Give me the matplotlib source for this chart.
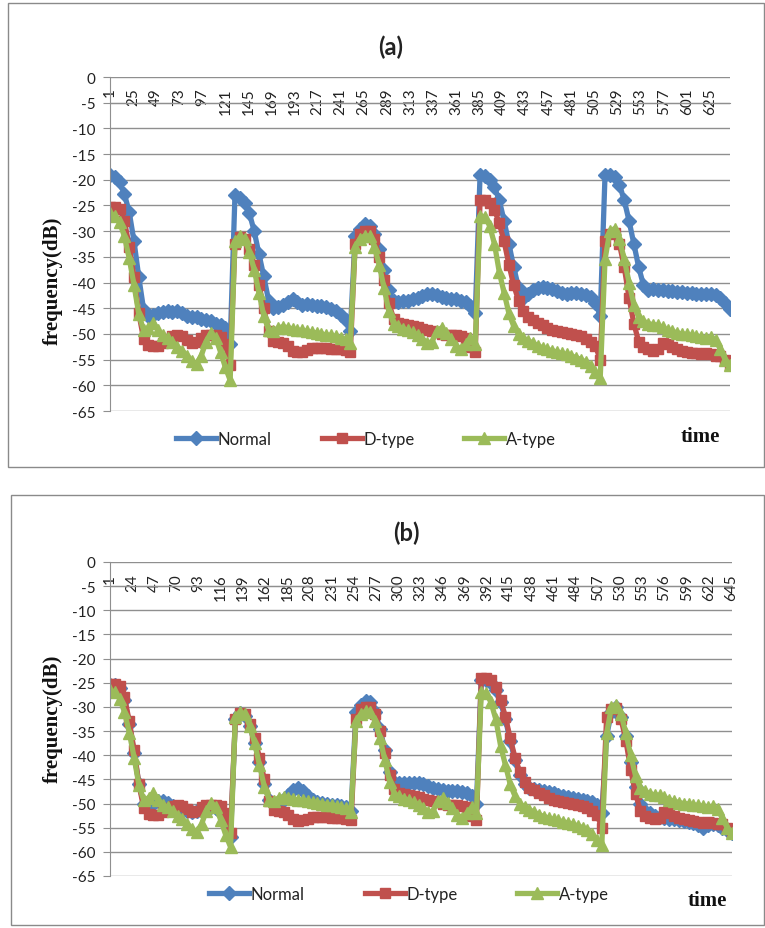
import matplotlib
matplotlib.use("Agg")
import matplotlib.pyplot as plt
from matplotlib.patches import Rectangle

plt.rcParams['axes.unicode_minus'] = False
plt.rcParams['font.family'] = ['Lato', 'DejaVu Sans']

# time index (every 5th sample of the recorded 645)
time = list(range(1, 647, 5))

# panel (a) normal
normal_a = [
    -19, -19.5, -20.5, -22.8, -26.3, -32, -39, -45.3, -46.5, -46.3, -46, -45.8, -45.5,
    -45.8, -45.5, -46, -46.5, -46.8, -46.8, -47, -47.2, -47.5, -48, -48.3, -48.8, -52,
    -23, -23.5, -24.5, -26.5, -30, -34.5, -38.8, -43.5, -45, -44.8, -44.3, -43.7, -43.3,
    -43.8, -44.3, -44.2, -44.4, -44.5, -44.5, -44.8, -45.2, -45.6, -46.3, -47.3, -49.5,
    -31, -29.5, -28.7, -29, -30.5, -33.5, -37.5, -41.5, -43.5, -43.8, -43.6, -43.5, -43.3,
    -43, -42.6, -42.3, -42.2, -42.4, -42.8, -43, -43.2, -43.3, -43.5, -43.8, -44.5, -46,
    -19, -19.3, -20, -21.5, -24, -28, -32.5, -37, -41, -43, -42.3, -41.5, -41,
    -40.8, -41, -41.3, -41.7, -42, -42.2, -42, -42, -42.2, -42.4, -42.8, -44, -46.5,
    -19, -19, -19.5, -21, -24, -28, -32.5, -37, -40.5, -41.5, -41.3, -41.5, -41.5, -41.6,
    -41.7, -41.8, -41.8, -42, -42, -42.2, -42.3, -42.3, -42.3, -42.5, -43, -44, -45.2,
]

# D-type and A-type are the same in both panels
dtype = [
    -25.3, -25.3, -25.6, -28, -33, -39, -46, -51, -52.2, -52.3, -52.3, -51.8, -51,
    -50.5, -50.3, -50.5, -51.2, -51.8, -51.6, -50.8, -50.3, -50.3, -50.3, -50.6, -52, -56,
    -32.5, -31.2, -31.5, -33.5, -36.5, -40.5, -45, -49.5, -51.3, -51.5, -51.7, -52.3, -53.3,
    -53.6, -53.5, -53.2, -52.8, -52.7, -52.7, -52.8, -52.9, -53, -53, -53.2, -53.5,
    -32.5, -30.5, -30, -30, -31.5, -35, -39.5, -44, -47, -47.8, -48, -48.2, -48.5,
    -48.7, -49, -49.3, -49.5, -49.7, -50, -50.2, -50.3, -50.3, -50.5, -50.8, -52.5, -53.5,
    -24, -24, -24.5, -25.8, -28.5, -32, -36.5, -40.5, -43.5, -45.5, -46.7, -47.3, -47.8,
    -48.3, -48.8, -49.2, -49.5, -49.7, -49.8, -50, -50.3, -50.5, -51, -51.5, -52.3, -55,
    -32, -30.5, -30.3, -32.5, -37, -43, -48, -51.5, -52.5, -53, -53.3, -53, -51.8, -52,
    -52.5, -53, -53.3, -53.5, -53.7, -53.8, -54, -53.8, -54, -54.3, -54.3, -55, -56,
]

atype = [
    -26.5, -27, -28.3, -31, -35.3, -40.5, -46.2, -49.3, -48.8, -47.8, -49.3, -50.3, -50.8,
    -51.5, -52.5, -53.3, -54.2, -55.3, -55.9, -54.2, -51.5, -49.8, -50.8, -53.5, -56.5, -59,
    -32, -31, -31.5, -34, -37.5, -42, -46.5, -49.2, -49.5, -48.8, -48.6, -48.8, -49,
    -49.3, -49.3, -49.5, -49.7, -49.8, -50, -50.2, -50.3, -50.5, -50.8, -51, -51.8,
    -33, -31.5, -30.9, -31, -33, -36.5, -41, -45.5, -48, -48.5, -49, -49.3, -49.7,
    -50.2, -51, -51.8, -51.5, -49.5, -48.8, -49.8, -51, -52.3, -53, -52, -50.8, -52,
    -27, -27.2, -29, -32.5, -38, -42, -46, -48.5, -50, -50.8, -51.3, -51.8, -52.3,
    -52.7, -53, -53.3, -53.5, -53.8, -54, -54.3, -54.6, -55, -55.5, -56.3, -57.5, -58.5,
    -35.5, -30, -29.5, -31.5, -35.5, -40, -44.3, -46.8, -47.5, -48, -48.2, -48.3, -48.7, -49.3,
    -49.5, -49.8, -50, -50.1, -50.3, -50.4, -50.6, -50.8, -50.6, -51.2, -53, -55, -56,
]

# panel (b) normal
normal_b = [
    -25.5, -25.5, -26, -28.5, -33.5, -39.5, -46, -50, -50.5, -50, -49.5, -49.5, -49.8,
    -50.5, -51, -51.3, -51.5, -51.8, -51.5, -51, -50.8, -50.8, -51, -52, -54, -57,
    -32.5, -31.3, -31.8, -34, -37.5, -41.5, -46, -49.3, -50, -49.8, -49.3, -48.3, -47.2,
    -46.8, -47.5, -48.5, -49.3, -49.6, -49.8, -50, -50.2, -50.3, -50.5, -50.8, -51.5,
    -31, -29.5, -28.7, -29, -31, -34.5, -39, -43.5, -45.5, -45.8, -45.8, -45.8, -45.8,
    -45.8, -46, -46.3, -46.7, -47, -47.2, -47.4, -47.5, -47.5, -47.6, -47.8, -48.5, -50,
    -24.5, -24.5, -25, -26.5, -29, -32.5, -37, -41, -44, -46, -46.8, -47, -47.2,
    -47.4, -47.6, -47.9, -48.2, -48.4, -48.6, -48.8, -49, -49.2, -49.4, -49.6, -50.2, -52,
    -36, -31, -30, -32, -36, -41.5, -46.5, -50, -51.5, -52, -52.5, -52.8, -53, -53.2,
    -53.3, -53.5, -53.6, -53.8, -54, -54.5, -55, -54.5, -54.3, -54.5, -55, -55.5, -56,
]

ticks_a = list(range(1, 626, 24))
ticks_b = list(range(1, 646, 23))
yticks = list(range(0, -66, -5))

W, H = 765, 929
grid_col = '#8f8f8f'
text_col = '#222222'


def fx(x):
    return x / W


def fy(y):
    return 1 - y / H


def draw_panel(fig, rect, normal, ticks, label_pad):
    left, top, right, bottom = rect
    ax = fig.add_axes([fx(left), fy(bottom), fx(right - left), (bottom - top) / H])
    # move the category axis first: set_position resets the tick settings
    ax.spines['bottom'].set_position(('data', -5))
    ax.spines['bottom'].set_color(grid_col)
    ax.spines['left'].set_color(grid_col)
    ax.spines['top'].set_visible(False)
    ax.spines['right'].set_visible(False)

    ax.plot(time, normal, color='#4F81BD', marker='D', ms=7.5, mew=1, lw=3.8, label='Normal')
    ax.plot(time, dtype, color='#C0504D', marker='s', ms=7.5, mew=1, lw=3.8, label='D-type')
    ax.plot(time, atype, color='#9BBB59', marker='^', ms=9, mew=1, lw=3.8, label='A-type')

    ax.set_xlim(1, 646)
    ax.set_ylim(-65, 0)
    ax.set_yticks(yticks)
    ax.set_yticklabels([str(v) for v in yticks])
    ax.yaxis.grid(True, color=grid_col, lw=1)
    ax.set_axisbelow(True)

    ax.set_xticks(ticks)
    ax.set_xticklabels([str(t) for t in ticks])
    ax.tick_params(axis='x', length=0, pad=label_pad, labelsize=11, labelcolor=text_col,
                   labelrotation=90)
    ax.tick_params(axis='y', length=5, color=grid_col, pad=5.5, labelsize=11,
                   labelcolor=text_col)
    return ax


fig = plt.figure(figsize=(W / 100, H / 100), dpi=100)

# outer chart borders
fig.patches.append(Rectangle((fx(8), fy(468)), fx(756), (468 - 4) / H,
                             transform=fig.transFigure, fill=False, ec='#8a8a8a', lw=1))
fig.patches.append(Rectangle((fx(11), fy(926)), fx(753), (926 - 496) / H,
                             transform=fig.transFigure, fill=False, ec='#8a8a8a', lw=1))

ax_a = draw_panel(fig, (110, 78, 730, 412), normal_a, ticks_a, -11)
ax_b = draw_panel(fig, (110, 563, 732, 877), normal_b, ticks_b, -9)

serif = ['Liberation Serif', 'DejaVu Serif']
for ax, title, tpos, ypos, timepos, legpos, colsp in [
        (ax_a, '(a)', (391, 47), (53, 281), (700, 437), (366, 440), 3.0),
        (ax_b, '(b)', (406, 533), (53, 719), (707, 901), (409, 895), 3.6)]:
    fig.text(fx(tpos[0]), fy(tpos[1]), title, ha='center', va='center',
             fontsize=17, fontweight='bold', color=text_col)
    fig.text(fx(ypos[0]), fy(ypos[1]), 'frequency(dB)', rotation=90, ha='center',
             va='center', fontsize=15, fontweight='bold', family=serif, color='#111111')
    fig.text(fx(timepos[0]), fy(timepos[1]), 'time', ha='center', va='center',
             fontsize=15, fontweight='bold', family=serif, color='#111111')
    handles, labels = ax.get_legend_handles_labels()
    fig.legend(handles, labels, loc='center', bbox_to_anchor=(fx(legpos[0]), fy(legpos[1])),
               ncol=3, frameon=False, handlelength=2.4, handletextpad=0.1,
               columnspacing=colsp, fontsize=12, labelcolor=text_col)

fig.savefig('out.png', dpi=100)
